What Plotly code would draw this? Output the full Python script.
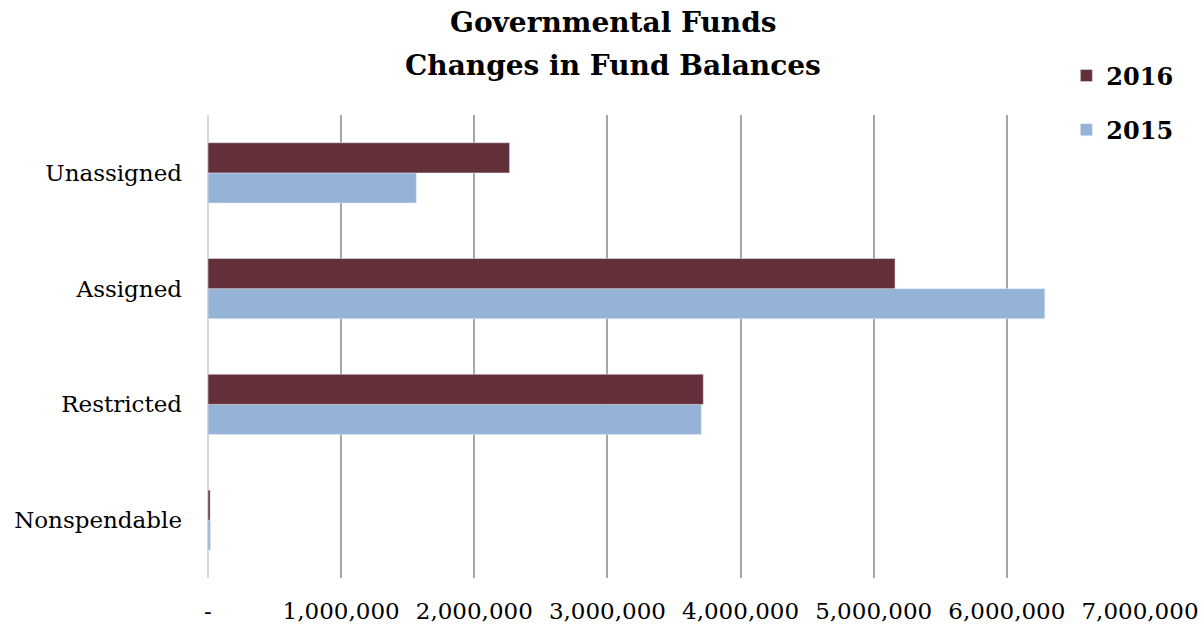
import plotly.graph_objects as go

categories = ["Nonspendable", "Restricted", "Assigned", "Unassigned"]
values_2016 = [16000, 3720000, 5160000, 2265000]
values_2015 = [18000, 3705000, 6285000, 1565000]
tick_vals = [0, 1000000, 2000000, 3000000, 4000000, 5000000, 6000000, 7000000]
tick_text = ["-", "1,000,000", "2,000,000", "3,000,000", "4,000,000",
             "5,000,000", "6,000,000", "7,000,000"]
title_lines = ["Governmental Funds", "Changes in Fund Balances"]

fig = go.Figure()
fig.add_trace(go.Bar(y=categories, x=values_2015, name="2015", orientation="h",
                     legendgroup="g2015", legendrank=2, marker=dict(color="#95B3D7")))
fig.add_trace(go.Bar(y=categories, x=values_2016, name="2016", orientation="h",
                     legendgroup="g2016", legendrank=1, marker=dict(color="#632F39")))

fig.update_layout(
    width=1204, height=627,
    paper_bgcolor="white", plot_bgcolor="white",
    barmode="group", bargap=0.48, bargroupgap=0,
    margin=dict(l=208, r=64, t=115, b=49, autoexpand=False),
    legend=dict(x=0.921, xanchor="left", y=1.133, yanchor="top",
                traceorder="grouped", tracegroupgap=20,
                font=dict(family="DejaVu Serif", size=24, color="black", weight="bold"),
                bgcolor="rgba(0,0,0,0)"),
    font=dict(family="DejaVu Serif", size=23, color="black"),
)
fig.add_annotation(text="<b>" + title_lines[0] + "</b>", xref="paper", yref="paper",
                   x=0.435, y=1 + (115 - 22) / 463, xanchor="center", yanchor="middle",
                   showarrow=False, font=dict(family="DejaVu Serif", size=28, color="black"))
fig.add_annotation(text="<b>" + title_lines[1] + "</b>", xref="paper", yref="paper",
                   x=0.435, y=1 + (115 - 65) / 463, xanchor="center", yanchor="middle",
                   showarrow=False, font=dict(family="DejaVu Serif", size=28, color="black"))
fig.update_xaxes(range=[0, 7000000], tickvals=tick_vals, ticktext=tick_text,
                 showgrid=True, gridcolor="#A6A6A6", gridwidth=2,
                 zeroline=True, zerolinecolor="#D9D9D9", zerolinewidth=2,
                 showline=False, ticks="", ticklabelstandoff=17,
                 tickfont=dict(family="DejaVu Serif", size=23, color="black"))
fig.update_yaxes(categoryorder="array", categoryarray=categories,
                 showgrid=False, zeroline=False, showline=False, ticks="",
                 ticklabelstandoff=25,
                 tickfont=dict(family="DejaVu Serif", size=23, color="black"))

fig.write_html("out.html", config={"displayModeBar": False},
               post_script="document.body.style.margin='0';document.body.style.overflow='hidden';")
